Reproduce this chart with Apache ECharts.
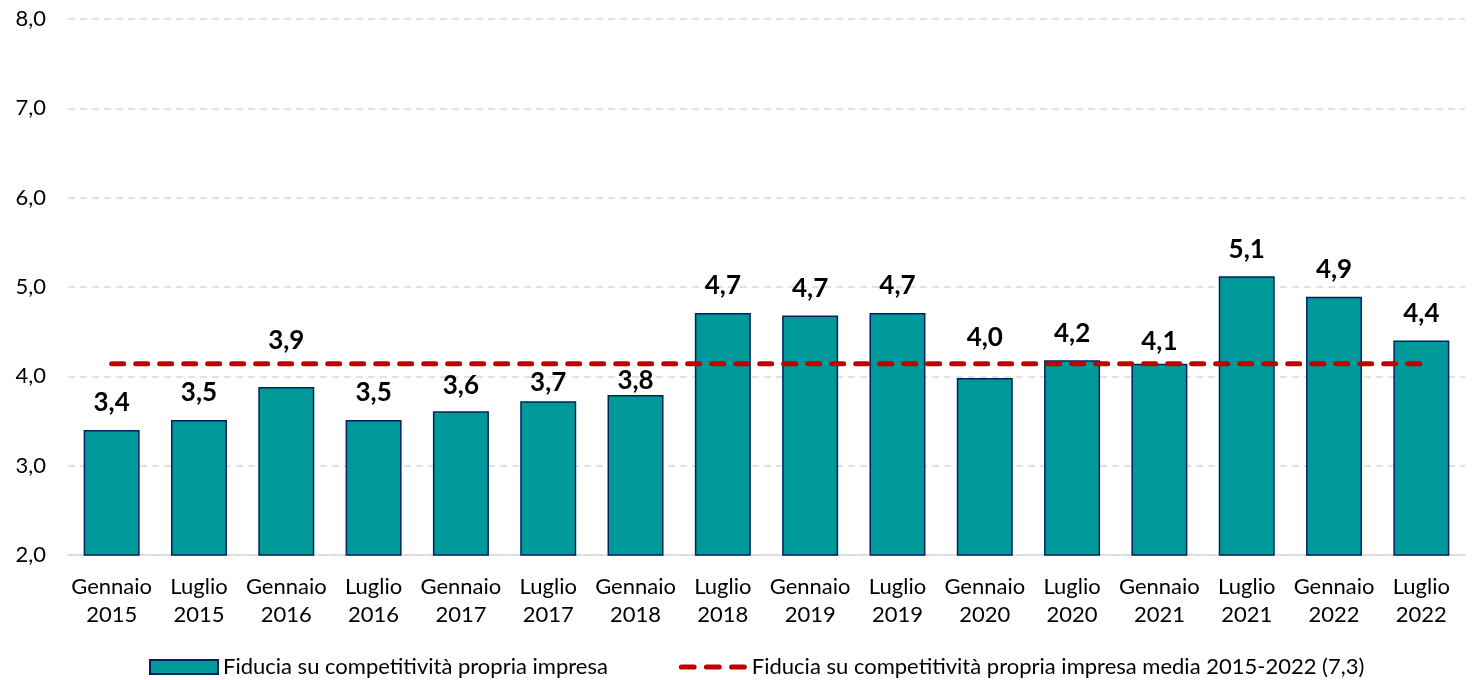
<!DOCTYPE html>
<html>
<head>
<meta charset="utf-8">
<script src="https://cdn.jsdelivr.net/npm/echarts@6/dist/echarts.min.js"></script>
<style>
html,body{margin:0;padding:0;background:#fff;}
#chart{width:1474px;height:680px;}
</style>
</head>
<body>
<div id="chart"></div>
<script>
var categories = ["Gennaio\n2015","Luglio\n2015","Gennaio\n2016","Luglio\n2016","Gennaio\n2017","Luglio\n2017","Gennaio\n2018","Luglio\n2018","Gennaio\n2019","Luglio\n2019","Gennaio\n2020","Luglio\n2020","Gennaio\n2021","Luglio\n2021","Gennaio\n2022","Luglio\n2022"];
var fiducia = [3.40, 3.51, 3.88, 3.51, 3.61, 3.72, 3.79, 4.71, 4.68, 4.71, 3.98, 4.18, 4.14, 5.12, 4.89, 4.40];
var media = [4.14, 4.14, 4.14, 4.14, 4.14, 4.14, 4.14, 4.14, 4.14, 4.14, 4.14, 4.14, 4.14, 4.14, 4.14, 4.14];
var seriesNames = ["Fiducia su competitività propria impresa", "Fiducia su competitività propria impresa media 2015-2022 (7,3)"];

var FONT = "Lato";
var fmt = function(v){ return v.toFixed(1).replace('.', ','); };
// label placement tweaks (index -> distance), as the original moved labels around the average line
var labelDistance = {2: 33, 4: 13, 5: 6, 6: 1, 10: 28, 12: 9};
var barData = fiducia.map(function(v, i){
  var item = {value: v};
  if (labelDistance[i] !== undefined) item.label = {distance: labelDistance[i]};
  return item;
});
var dashIcon = 'path://M2.5,0 H14.5 A2.5,2.5 0 0 1 14.5,5 H2.5 A2.5,2.5 0 0 1 2.5,0 Z M26.5,0 H38.5 A2.5,2.5 0 0 1 38.5,5 H26.5 A2.5,2.5 0 0 1 26.5,0 Z M50.5,0 H62.5 A2.5,2.5 0 0 1 62.5,5 H50.5 A2.5,2.5 0 0 1 50.5,0 Z';

var chart = echarts.init(document.getElementById('chart'), null, {renderer:'canvas'});
chart.setOption({
  animation: false,
  backgroundColor: '#ffffff',
  grid: {left: 68, right: 9, top: 19, bottom: 125, containLabel: false},
  legend: {
    top: 651,
    left: 144,
    itemWidth: 68,
    itemHeight: 14,
    itemGap: 71,
    symbolKeepAspect: true,
    textStyle: {fontFamily: FONT, fontSize: 22, color: '#000'},
    data: [
      {name: seriesNames[0], icon: 'rect'},
      {name: seriesNames[1], icon: dashIcon, itemStyle: {color: '#C00000'}}
    ]
  },
  xAxis: {
    type: 'category',
    data: categories,
    axisTick: {show: false},
    axisLine: {lineStyle: {color: '#D9D9D9', width: 1.5}},
    axisLabel: {fontFamily: FONT, fontSize: 22, color: '#000', lineHeight: 28, margin: 18, interval: 0}
  },
  yAxis: {
    type: 'value',
    min: 2, max: 8, interval: 1,
    axisLine: {show: false},
    axisTick: {show: false},
    axisLabel: {fontFamily: FONT, fontSize: 22, color: '#000', margin: 22, formatter: fmt},
    splitLine: {lineStyle: {color: '#D9D9D9', width: 1.5, type: [7, 5]}}
  },
  series: [
    {
      name: seriesNames[0],
      type: 'bar',
      data: barData,
      barWidth: 56,
      itemStyle: {color: '#009999', borderColor: '#002060', borderWidth: 1.5},
      label: {
        show: true, position: 'top', distance: 14,
        fontFamily: FONT, fontSize: 26, fontWeight: 'bold', color: '#000',
        formatter: function(p){ return fmt(p.value); }
      },
      z: 2
    },
    {
      name: seriesNames[1],
      type: 'line',
      data: media,
      symbol: 'none',
      lineStyle: {color: '#C00000', width: 5, type: [12, 12], cap: 'round'},
      itemStyle: {color: '#C00000'},
      z: 3
    }
  ]
});
</script>
</body>
</html>
